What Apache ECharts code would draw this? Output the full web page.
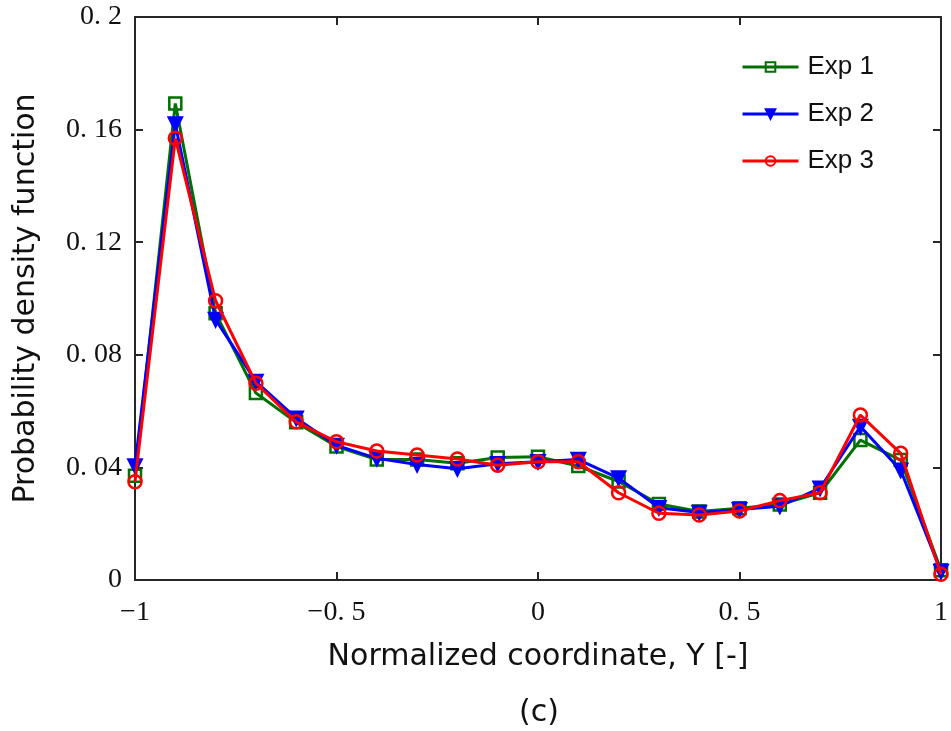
<!DOCTYPE html>
<html><head><meta charset="utf-8">
<script src="https://cdn.jsdelivr.net/npm/echarts@6/dist/echarts.min.js"></script>
<style>html,body{margin:0;padding:0;background:#fff}#c{width:951px;height:731px}</style>
</head><body><div id="c"></div>
<script>
const xs = [-1,-0.9,-0.8,-0.7,-0.6,-0.5,-0.4,-0.3,-0.2,-0.1,0,0.1,0.2,0.3,0.4,0.5,0.6,0.7,0.8,0.9,1];
const exp1 = [0.037,0.1693,0.0948,0.0664,0.056,0.0474,0.0428,0.0428,0.0415,0.0435,0.0438,0.0405,0.035,0.027,0.0243,0.0255,0.0268,0.031,0.0497,0.0426,0.0035];
const exp2 = [0.0405,0.162,0.0925,0.0705,0.0575,0.0478,0.0432,0.041,0.0395,0.0413,0.042,0.0428,0.0362,0.0257,0.024,0.025,0.0262,0.0326,0.0545,0.039,0.003];
const exp3 = [0.0349,0.1569,0.0992,0.0699,0.0562,0.0491,0.0458,0.0444,0.043,0.0408,0.042,0.042,0.031,0.0237,0.0231,0.0245,0.0282,0.031,0.0586,0.045,0.002];
const xTickLabels = {"-1":"\u22121","-0.5":"\u22120. 5","0":"0","0.5":"0. 5","1":"1"};
const yTickLabels = {"0":"0","0.04":"0. 04","0.08":"0. 08","0.12":"0. 12","0.16":"0. 16","0.2":"0. 2"};
const names = ["Exp 1","Exp 2","Exp 3"];
const colors = ["#007000","#0000ff","#ff0000"];

const chart = echarts.init(document.getElementById('c'));
const axisCol = '#262626';
const serif = '"Liberation Serif","DejaVu Serif",serif';
const sans = '"DejaVu Sans",Verdana,sans-serif';
function fmtKey(v){return String(Math.round(v*100)/100);}
const downTri = 'path://M0,0 L10,0 L5,8.66 Z';
function mk(i, data, symbol, size, filled){
  return {
    name: names[i], type:'line', data: xs.map((x,k)=>[x,data[k]]),
    symbol: symbol, symbolSize: size, showSymbol:true,
    lineStyle:{color:colors[i], width:3},
    itemStyle:{color: filled?colors[i]:'rgba(255,255,255,0)', borderColor:colors[i], borderWidth:2.5, opacity:1},
    emphasis:{disabled:true}, z: 2+i
  };
}
const tickStyle = {show:true, inside:true, length:8, lineStyle:{color:axisCol,width:2}};
const lineStyleAx = {show:true, onZero:false, lineStyle:{color:axisCol,width:2}};
chart.setOption({
  animation:false,
  grid:{left:135, right:8, top:17, bottom:151, containLabel:false},
  xAxis:[{
    type:'value', min:-1, max:1, interval:0.5, position:'bottom',
    axisLine:lineStyleAx, axisTick:tickStyle, splitLine:{show:false},
    axisLabel:{color:'#111', fontFamily:serif, fontSize:28, margin:19,
      formatter:v=>xTickLabels[fmtKey(v)] ?? ''},
    name:'Normalized coordinate, Y [-]', nameLocation:'middle', nameGap:62,
    nameTextStyle:{color:'#111', fontFamily:sans, fontSize:30}
  },{
    type:'value', min:-1, max:1, interval:0.5, position:'top',
    axisLine:lineStyleAx, axisTick:tickStyle, axisLabel:{show:false}, splitLine:{show:false}
  }],
  yAxis:[{
    type:'value', min:0, max:0.2, interval:0.04, position:'left',
    axisLine:lineStyleAx, axisTick:tickStyle, splitLine:{show:false},
    axisLabel:{color:'#111', fontFamily:serif, fontSize:28, margin:13,
      formatter:v=>yTickLabels[fmtKey(v)] ?? ''},
    name:'Probability density function', nameLocation:'middle', nameGap:94,
    nameTextStyle:{color:'#111', fontFamily:sans, fontSize:30}
  },{
    type:'value', min:0, max:0.2, interval:0.04, position:'right',
    axisLine:lineStyleAx, axisTick:tickStyle, axisLabel:{show:false}, splitLine:{show:false}
  }],
  legend:{
    orient:'vertical', right:72, top:49, itemGap:21, itemWidth:56, itemHeight:12,
    lineStyle:{width:3},
    textStyle:{fontFamily:'"Liberation Sans",Arial,sans-serif', fontSize:26, color:'#111', padding:[0,0,0,4]},
    data:names
  },
  graphic:[{type:'text', x:539, y:713, style:{text:'(c)', font:'30px "DejaVu Sans",Verdana,sans-serif', fill:'#111', align:'center', verticalAlign:'middle'}}],
  series:[
    mk(0, exp1, 'rect', 12, false),
    mk(1, exp2, downTri, 13, true),
    mk(2, exp3, 'circle', 13, false)
  ]
});
</script></body></html>
